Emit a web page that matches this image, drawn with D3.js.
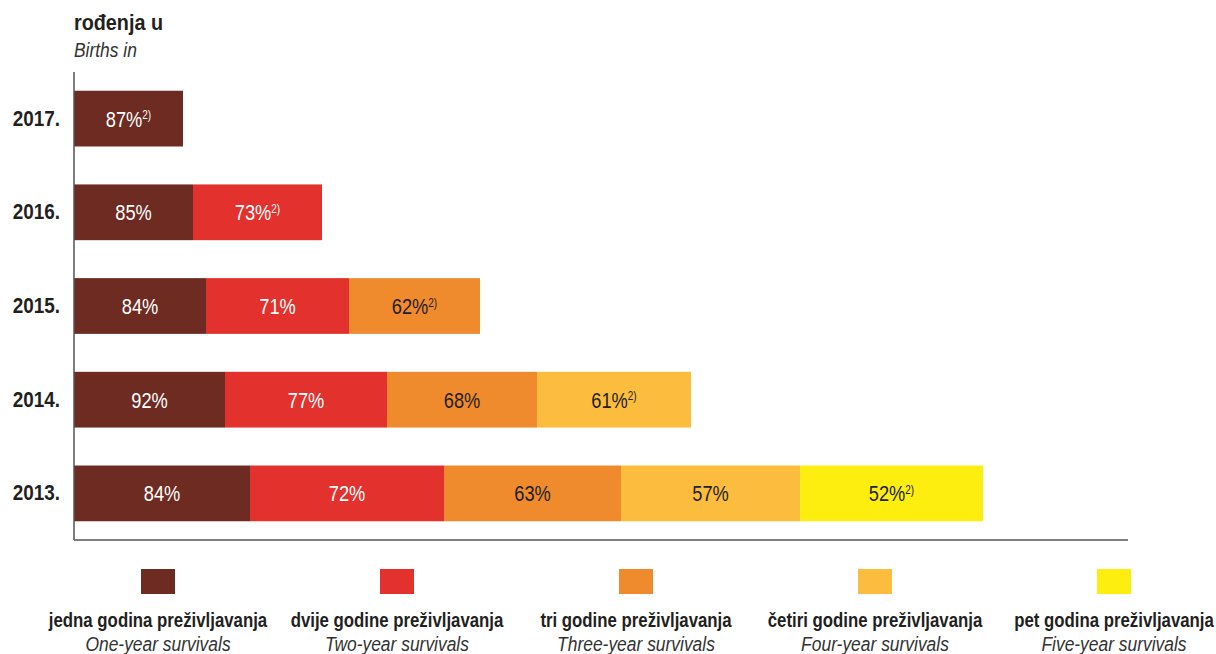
<!DOCTYPE html>
<html>
<head>
<meta charset="utf-8">
<script src="https://cdn.jsdelivr.net/npm/d3@7"></script>
<style>
  body { margin: 0; background: #fff; }
  svg text { font-family: "Liberation Sans", Arial, sans-serif; fill: #231f20; }
</style>
</head>
<body>
<svg id="chart" width="1216" height="654"></svg>
<script>
// birth cohorts (top to bottom)
var years = ["2017.", "2016.", "2015.", "2014.", "2013."];

// survival rates shown in each segment, one array per cohort
var rates2017 = [87];
var rates2016 = [85, 73];
var rates2015 = [84, 71, 62];
var rates2014 = [92, 77, 68, 61];
var rates2013 = [84, 72, 63, 57, 52];

// segment lengths as drawn in the original (relative units)
var len2017 = [109];
var len2016 = [119, 129];
var len2015 = [132, 143, 131];
var len2014 = [151, 162, 150, 154];
var len2013 = [176, 194, 177, 179, 183];

var seriesHr = ["jedna godina preživljavanja", "dvije godine preživljavanja", "tri godine preživljavanja", "četiri godine preživljavanja", "pet godina preživljavanja"];
var seriesEn = ["One-year survivals", "Two-year survivals", "Three-year survivals", "Four-year survivals", "Five-year survivals"];
var colors = ["#6e2b22", "#e3312d", "#f08b2d", "#fcbd3e", "#fdee10"];
var labelColors = ["#ffffff", "#ffffff", "#231f20", "#231f20", "#231f20"];

var rates = [rates2017, rates2016, rates2015, rates2014, rates2013];
var lens = [len2017, len2016, len2015, len2014, len2013];

var NARROW = 0.83; // condensed look of the original typeface

var svg = d3.select("#chart"),
    margin = {top: 72, right: 88, bottom: 114, left: 74},
    width = +svg.attr("width") - margin.left - margin.right,
    height = +svg.attr("height") - margin.top - margin.bottom,
    g = svg.append("g").attr("transform", "translate(" + margin.left + "," + margin.top + ")");

var x = d3.scaleLinear().domain([0, 1054]).range([0, width]);
var y = d3.scaleBand().domain(years).range([0, height]).paddingInner(0.405).paddingOuter(0.2);

// text placed at (px,py), squeezed horizontally
function narrowText(sel, px, py, k) {
    return sel.append("g")
        .attr("transform", "translate(" + px + "," + py + ") scale(" + (k || NARROW) + ",1)")
        .append("text");
}

// build segments with running offsets
var rows = years.map(function(yr, i) {
    var start = 0;
    return {
        year: yr,
        segs: rates[i].map(function(r, j) {
            var s = {k: j, rate: r, x0: start, x1: start + lens[i][j], last: j === rates[i].length - 1};
            start += lens[i][j];
            return s;
        })
    };
});

var row = g.selectAll(".row")
    .data(rows)
    .enter().append("g")
    .attr("class", "row")
    .attr("transform", function(d) { return "translate(0," + y(d.year) + ")"; });

row.selectAll("rect")
    .data(function(d) { return d.segs; })
    .enter().append("rect")
    .attr("x", function(d) { return x(d.x0); })
    .attr("width", function(d) { return x(d.x1) - x(d.x0); })
    .attr("height", y.bandwidth())
    .attr("fill", function(d) { return colors[d.k]; });

row.selectAll(".lbl")
    .data(function(d) { return d.segs; })
    .enter().append("g")
    .attr("class", "lbl")
    .attr("transform", function(d) { return "translate(" + x((d.x0 + d.x1) / 2) + "," + (y.bandwidth() / 2) + ") scale(" + NARROW + ",1)"; })
    .each(function(d) {
        var t = d3.select(this).append("text")
            .attr("dy", "0.36em")
            .attr("text-anchor", "middle")
            .style("font-size", "22px")
            .style("fill", labelColors[d.k]);
        t.append("tspan").text(d.rate + "%");
        if (d.last) {
            t.append("tspan").attr("dy", "-0.6em").style("font-size", "12px").text("2)");
        }
    });

// year labels
g.append("g")
    .call(d3.axisLeft(y).tickSize(0).tickPadding(14))
    .call(function(a) { a.select(".domain").remove(); })
    .selectAll(".tick text")
    .attr("x", null)
    .attr("transform", "translate(-14,0) scale(0.86,1)")
    .style("font-size", "22px")
    .style("font-weight", "bold")
    .style("fill", "#231f20");

// axis frame lines
g.append("line").attr("x1", 0).attr("x2", 0).attr("y1", 0).attr("y2", height)
    .attr("stroke", "#555").attr("stroke-width", 1.5);
g.append("line").attr("x1", 0).attr("x2", x(1054)).attr("y1", height).attr("y2", height)
    .attr("stroke", "#555").attr("stroke-width", 1.5);

// title
narrowText(svg, 74, 30, 0.9)
    .style("font-size", "22px").style("font-weight", "bold").text("rođenja u");
narrowText(svg, 74, 57)
    .style("font-size", "21px").style("font-style", "italic").style("fill", "#333").text("Births in");

// legend
var lx = d3.scalePoint().domain(d3.range(5)).range([158, 1114]);
var legend = svg.selectAll(".legend")
    .data(d3.range(5))
    .enter().append("g")
    .attr("class", "legend")
    .attr("transform", function(d) { return "translate(" + lx(d) + ",0)"; });
legend.append("rect")
    .attr("x", -17).attr("y", 569).attr("width", 34).attr("height", 25)
    .attr("fill", function(d) { return colors[d]; });
legend.each(function(d) {
    var gl = d3.select(this);
    narrowText(gl, 0, 627, 0.8).attr("text-anchor", "middle")
        .style("font-size", "21px").style("font-weight", "bold")
        .text(seriesHr[d]);
    narrowText(gl, 0, 651).attr("text-anchor", "middle")
        .style("font-size", "21px").style("font-style", "italic").style("fill", "#333")
        .text(seriesEn[d]);
});
</script>
</body>
</html>
